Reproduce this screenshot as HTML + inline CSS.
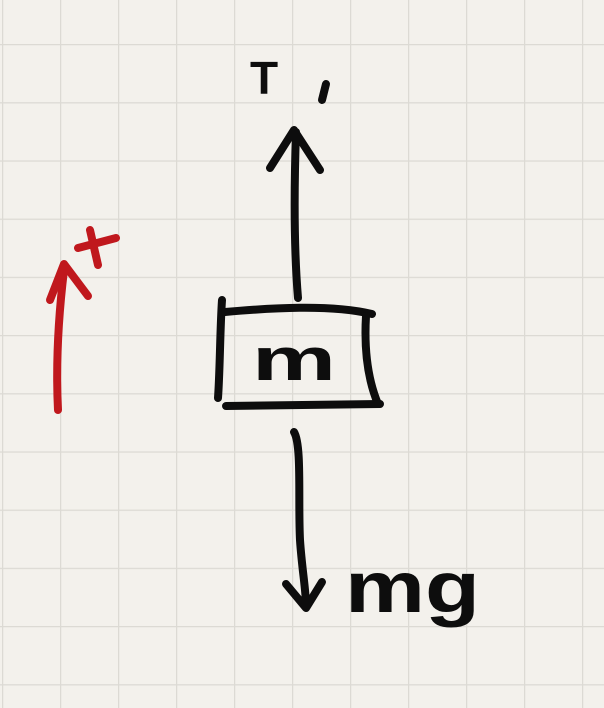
<!DOCTYPE html>
<html><head><meta charset="utf-8"><style>
html,body{margin:0;padding:0;background:#f3f1ec;}
svg{display:block;}
text{font-family:"Liberation Sans",sans-serif;font-weight:bold;}
</style></head><body>
<svg width="604" height="708" viewBox="0 0 604 708" xmlns="http://www.w3.org/2000/svg">
<defs>
<pattern id="g" x="2" y="44" width="58" height="58.2" patternUnits="userSpaceOnUse">
<path d="M0 0V58.2M0 0H58" stroke="#dcdad4" stroke-width="2.5" fill="none"/>
</pattern>
</defs>
<rect width="604" height="708" fill="#f3f1ec"/>
<rect width="604" height="708" fill="url(#g)"/>
<g stroke="#0d0d0d" stroke-width="8" fill="none" stroke-linecap="round" stroke-linejoin="round">
<!-- up arrow -->
<path d="M298 298 C294 250 294 190 296 132"/>
<path d="M270 168 L294 130 L320 170"/>
<!-- box -->
<path d="M222 300 C220 330 220 370 218 398"/>
<path d="M225 312 C270 308 330 304 372 314"/>
<path d="M366 316 C364 350 368 380 378 404"/>
<path d="M226 406 L380 404"/>
<!-- down arrow -->
<path d="M294 432 C302 445 298 500 300 540 C302 570 306 590 306 606"/>
<path d="M286 584 L306 608 L322 582"/>
<!-- subscript 1 mark -->
<path d="M326 84 L322 100"/>
</g>
<g stroke="#c0181d" stroke-width="8" fill="none" stroke-linecap="round" stroke-linejoin="round">
<path d="M58 410 C56 370 58 320 64 270"/>
<path d="M50 300 L64 264 L88 296"/>
<path d="M90 230 L98 265 M78 248 L116 238"/>
</g>
<g fill="#0d0d0d">
<text x="250" y="94" font-size="46">T</text>
<text x="252" y="380" font-size="60" textLength="84" lengthAdjust="spacingAndGlyphs">m</text>
<text x="345" y="612" font-size="72" textLength="135" lengthAdjust="spacingAndGlyphs">mg</text>
</g>
</svg>
</body></html>
